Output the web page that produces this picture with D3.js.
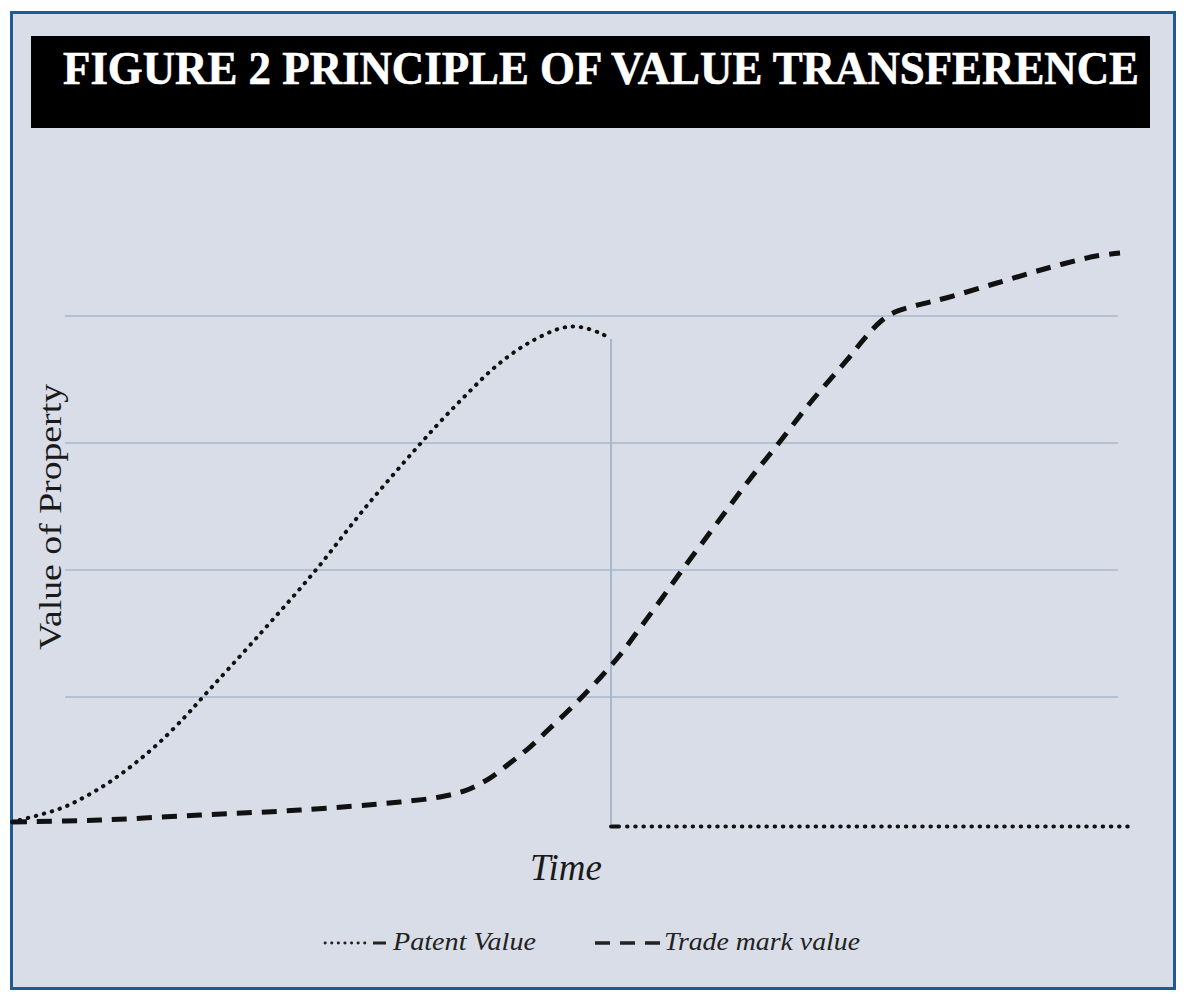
<!DOCTYPE html>
<html>
<head>
<meta charset="utf-8">
<script src="https://cdn.jsdelivr.net/npm/d3@7"></script>
<style>
  body { margin: 0; background: #fff; }
  svg { display: block; }
</style>
</head>
<body>
<div id="content"></div>
<script>
// values, time 0..100, value in grid units
var patentTime   = [0, 4.29, 6.53, 8.77, 11.00, 13.24, 15.47, 16.99, 22.18, 27.10, 31.57, 35.87, 38.28, 40.70, 43.20, 46.06, 49.19, 50.81, 52.59, 53.58];
var patentValue  = [0.016, 0.121, 0.214, 0.333, 0.478, 0.647, 0.844, 0.992, 1.496, 1.992, 2.488, 2.929, 3.165, 3.386, 3.598, 3.780, 3.906, 3.913, 3.866, 3.819];
var patentAfterTime  = [53.58, 100];
var patentAfterValue = [-0.02, -0.02];
var tradeTime  = [0, 7.87, 16.82, 25.76, 34.70, 38.28, 40.70, 42.75, 44.54, 46.33, 47.94, 49.64, 51.07, 52.59, 54.38, 56.17, 57.96, 59.75, 63.60, 66.01, 68.52, 71.38, 74.69, 76.30, 77.64, 78.98, 81.04, 83.54, 88.10, 92.66, 96.96, 99.11];
var tradeValue = [0.016, 0.031, 0.071, 0.110, 0.173, 0.213, 0.268, 0.362, 0.480, 0.606, 0.740, 0.882, 1.008, 1.150, 1.331, 1.543, 1.756, 1.976, 2.433, 2.717, 2.992, 3.315, 3.654, 3.827, 3.953, 4.031, 4.087, 4.142, 4.260, 4.378, 4.472, 4.496];
var gridValues = [1, 2, 3, 4];
var transferTime = 53.58;
var legendLabels = ['Patent Value', 'Trade mark value'];

var width = 1184, height = 1002;
var serif = '"Liberation Serif", "DejaVu Serif", serif';

var svg = d3.select('#content').append('svg')
  .attr('width', width)
  .attr('height', height);

// frame
svg.append('rect')
  .attr('x', 11.5).attr('y', 12.5)
  .attr('width', 1163).attr('height', 976)
  .attr('fill', '#d9dde8')
  .attr('stroke', '#215a91')
  .attr('stroke-width', 3);

// title bar
svg.append('rect')
  .attr('x', 31).attr('y', 36)
  .attr('width', 1119).attr('height', 92)
  .attr('fill', '#000');
svg.append('text')
  .attr('x', 63).attr('y', 84)
  .attr('textLength', 1076)
  .attr('lengthAdjust', 'spacingAndGlyphs')
  .style('font-family', serif)
  .style('font-weight', 'bold')
  .style('font-size', '46px')
  .style('fill', '#fff')
  .style('stroke', '#fff')
  .style('stroke-width', 0.6)
  .text('FIGURE 2 PRINCIPLE OF VALUE TRANSFERENCE');

var x = d3.scaleLinear().domain([0, 100]).range([12, 1130]);
var y = d3.scaleLinear().domain([0, 4]).range([824, 316]);

// grid
svg.append('g').selectAll('line')
  .data(gridValues)
  .enter().append('line')
  .attr('x1', 65).attr('x2', 1118)
  .attr('y1', d => y(d)).attr('y2', d => y(d))
  .attr('stroke', '#a7b7cd')
  .attr('stroke-width', 1.5);

// drop line where value moves across
svg.append('line')
  .attr('x1', x(transferTime)).attr('x2', x(transferTime))
  .attr('y1', y(patentValue[patentValue.length - 1])).attr('y2', y(0))
  .attr('stroke', '#a7b7cd')
  .attr('stroke-width', 2);

var line = d3.line()
  .x(d => x(d[0]))
  .y(d => y(d[1]))
  .curve(d3.curveCatmullRom.alpha(0.5));

var tradeData = d3.zip(tradeTime, tradeValue);
var patentData = d3.zip(patentTime, patentValue);
var patentAfter = d3.zip(patentAfterTime, patentAfterValue);

svg.append('path')
  .attr('d', line(tradeData))
  .attr('fill', 'none')
  .attr('stroke', '#111')
  .attr('stroke-width', 5)
  .attr('stroke-dasharray', '15 10');

svg.append('path')
  .attr('d', line(patentData))
  .attr('fill', 'none')
  .attr('stroke', '#111')
  .attr('stroke-width', 4)
  .attr('stroke-linecap', 'round')
  .attr('stroke-dasharray', '0.5 7.7');

// after transfer: short dash then dots
var dots = d3.range(70).map(() => '0.5 7.7').join(' ');
svg.append('path')
  .attr('d', d3.line().x(d => x(d[0])).y(d => y(d[1]))(patentAfter))
  .attr('fill', 'none')
  .attr('stroke', '#111')
  .attr('stroke-width', 4)
  .attr('stroke-linecap', 'round')
  .attr('stroke-dasharray', '8 8 ' + dots);

// axis titles
svg.append('text')
  .attr('transform', 'translate(61,517) rotate(-90)')
  .attr('text-anchor', 'middle')
  .attr('textLength', 266)
  .attr('lengthAdjust', 'spacingAndGlyphs')
  .style('font-family', serif)
  .style('font-size', '32px')
  .style('fill', '#1a1a1a')
  .text('Value of Property');

svg.append('text')
  .attr('x', 566).attr('y', 880)
  .attr('text-anchor', 'middle')
  .style('font-family', serif)
  .style('font-style', 'italic')
  .style('font-size', '37px')
  .style('fill', '#1a1a1a')
  .text('Time');

// legend
var leg = svg.append('g');
leg.append('line')
  .attr('x1', 325).attr('x2', 370).attr('y1', 943).attr('y2', 943)
  .attr('stroke', '#222').attr('stroke-width', 2.8)
  .attr('stroke-linecap', 'round')
  .attr('stroke-dasharray', '0.3 6.3');
leg.append('line')
  .attr('x1', 373).attr('x2', 386).attr('y1', 943).attr('y2', 943)
  .attr('stroke', '#222').attr('stroke-width', 3);
leg.append('line')
  .attr('x1', 595).attr('x2', 664).attr('y1', 943).attr('y2', 943)
  .attr('stroke', '#222').attr('stroke-width', 3.6)
  .attr('stroke-dasharray', '15 10');

leg.selectAll('text')
  .data(legendLabels)
  .enter().append('text')
  .attr('x', (d, i) => i === 0 ? 393 : 664)
  .attr('y', 950)
  .attr('textLength', (d, i) => i === 0 ? 143 : 196)
  .attr('lengthAdjust', 'spacingAndGlyphs')
  .style('font-family', serif)
  .style('font-style', 'italic')
  .style('font-size', '25px')
  .style('fill', '#222')
  .text(d => d);
</script>
</body>
</html>
